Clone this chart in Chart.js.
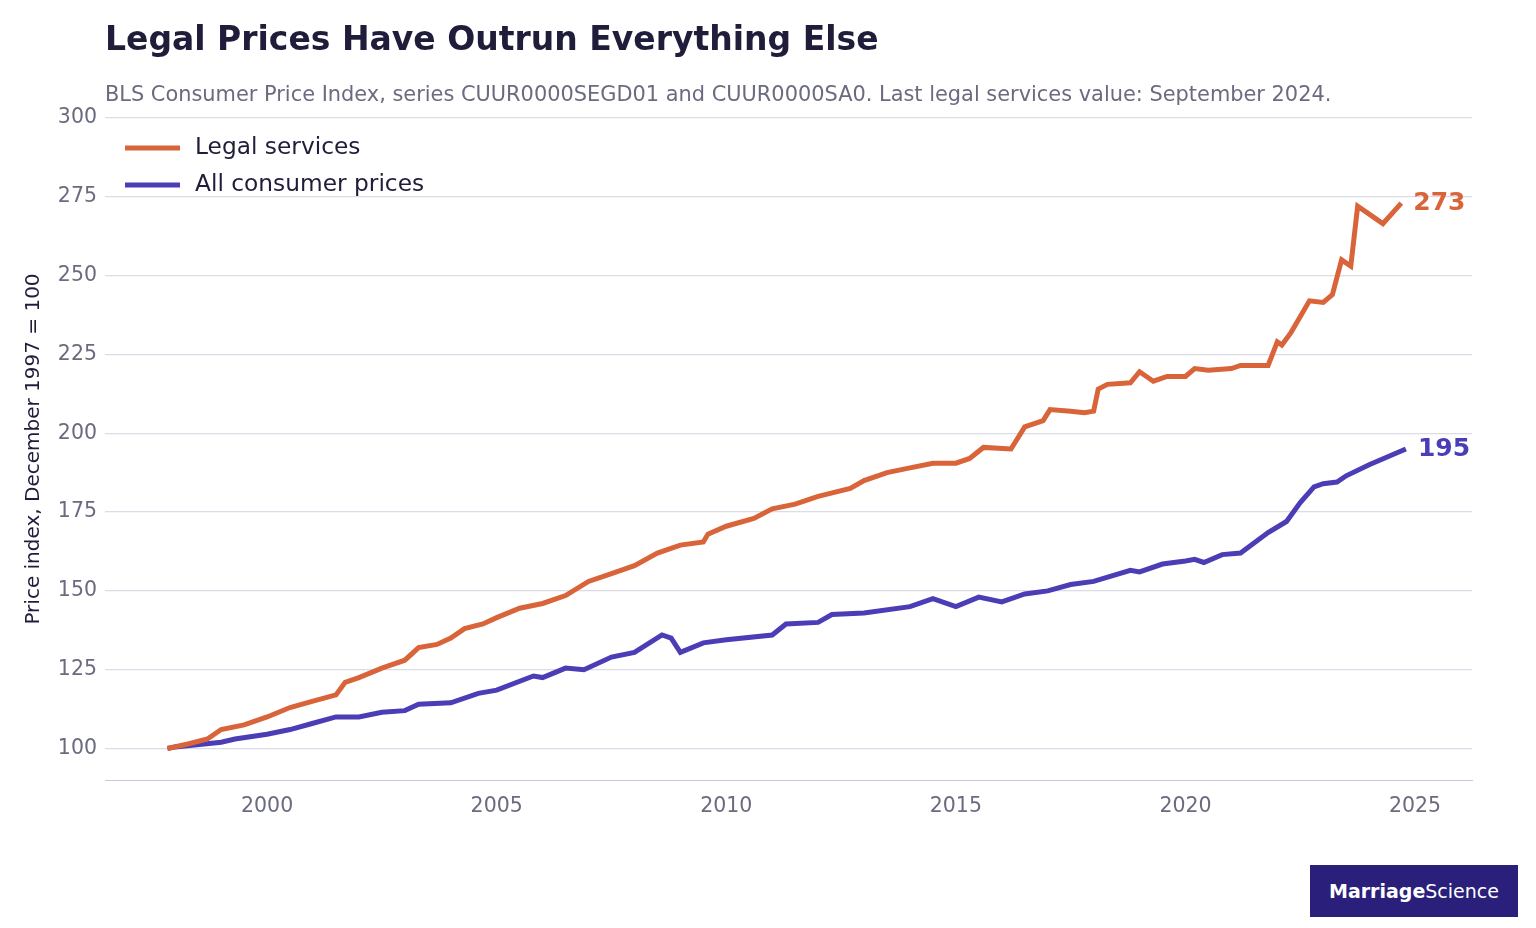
<!DOCTYPE html>
<html>
<head>
<meta charset="utf-8">
<script src="https://cdn.jsdelivr.net/npm/chart.js@4"></script>
<style>
  body { margin: 0; width: 1536px; height: 928px; background: #fff; font-family: "DejaVu Sans", sans-serif; overflow: hidden; }
  #wrap { position: absolute; left: 0; top: 0; width: 1536px; height: 928px; }
  h1 { position: absolute; left: 105px; top: 19px; margin: 0; font-size: 33px; font-weight: bold; color: #1f1d3a; }
  .sub { position: absolute; left: 105px; top: 82px; font-size: 20.9px; color: #6b6b80; white-space: nowrap; }
  .logo { position: absolute; left: 1310px; top: 865px; width: 208px; height: 52px; background: #2a1f7a; color: #fff; font-size: 19px; line-height: 52px; text-align: center; }
</style>
</head>
<body>
<div id="wrap"><canvas id="c" width="1536" height="928"></canvas></div>
<h1>Legal Prices Have Outrun Everything Else</h1>
<div class="sub">BLS Consumer Price Index, series CUUR0000SEGD01 and CUUR0000SA0. Last legal services value: September 2024.</div>
<div class="logo"><b>Marriage</b>Science</div>
<script>
// x positions are decimal years
const legalYears = [1997.83, 1998.3, 1998.7, 1999, 1999.5, 2000, 2000.5, 2001, 2001.5, 2001.7, 2002, 2002.5, 2003, 2003.3, 2003.7, 2004, 2004.3, 2004.7, 2005, 2005.5, 2006, 2006.5, 2007, 2007.5, 2008, 2008.5, 2009, 2009.5, 2009.6, 2010, 2010.6, 2011, 2011.5, 2012, 2012.7, 2013, 2013.5, 2014, 2014.5, 2015, 2015.3, 2015.6, 2016.2, 2016.5, 2016.9, 2017.05, 2017.5, 2017.8, 2018.0, 2018.1, 2018.3, 2018.8, 2019.0, 2019.3, 2019.6, 2020, 2020.2, 2020.5, 2021, 2021.2, 2021.8, 2022.0, 2022.1, 2022.3, 2022.7, 2023, 2023.2, 2023.4, 2023.6, 2023.75, 2024.3, 2024.7];
const legalValues = [100, 101.5, 103, 106, 107.5, 110, 113, 115, 117, 121, 122.5, 125.5, 128, 132, 133, 135, 138, 139.5, 141.5, 144.5, 146, 148.5, 153, 155.5, 158, 162, 164.5, 165.5, 168, 170.5, 173, 176, 177.5, 180, 182.5, 185, 187.5, 189, 190.5, 190.5, 192, 195.5, 195, 202, 204, 207.5, 207, 206.5, 207, 214, 215.5, 216, 219.5, 216.5, 218, 218, 220.5, 220, 220.5, 221.5, 221.5, 229, 228, 232, 242, 241.5, 244, 255, 253, 272, 266.5, 273];
const cpiYears = [1997.83, 1998, 1999, 1999.3, 2000, 2000.5, 2001, 2001.5, 2002, 2002.5, 2003, 2003.3, 2004, 2004.6, 2005, 2005.8, 2006, 2006.5, 2006.9, 2007.5, 2008, 2008.6, 2008.8, 2009, 2009.5, 2010, 2011, 2011.3, 2012, 2012.3, 2013, 2014, 2014.5, 2015, 2015.5, 2016, 2016.5, 2017, 2017.5, 2018, 2018.8, 2019, 2019.5, 2020, 2020.2, 2020.4, 2020.8, 2021.2, 2021.8, 2022.2, 2022.5, 2022.8, 2023, 2023.3, 2023.5, 2024, 2024.8];
const cpiValues = [100, 100.5, 102, 103, 104.5, 106, 108, 110, 110, 111.5, 112, 114, 114.5, 117.5, 118.5, 123, 122.5, 125.5, 125, 129, 130.5, 136, 135, 130.5, 133.5, 134.5, 136, 139.5, 140, 142.5, 143, 145, 147.5, 145, 148, 146.5, 149, 150, 152, 153, 156.5, 156, 158.5, 159.5, 160, 159, 161.5, 162, 168.5, 172, 178, 183, 184, 184.5, 186.5, 190, 195];
const yTicks = [100, 125, 150, 175, 200, 225, 250, 275, 300];
const xTicks = [2000, 2005, 2010, 2015, 2020, 2025];

const legalColor = '#d9643a';
const cpiColor = '#4b3db5';
const pts = (xs, ys) => xs.map((x, i) => ({ x, y: ys[i] }));

const extras = {
  id: 'extras',
  afterDatasetsDraw(chart) {
    const ctx = chart.ctx;
    ctx.save();
    // end labels
    chart.data.datasets.forEach((ds, i) => {
      const meta = chart.getDatasetMeta(i);
      const last = meta.data[meta.data.length - 1];
      ctx.fillStyle = ds.borderColor;
      ctx.font = 'bold 25px "DejaVu Sans"';
      ctx.textBaseline = 'middle';
      ctx.textAlign = 'left';
      ctx.fillText(String(Math.round(ds.data[ds.data.length - 1].y)), last.x + 12, last.y);
    });
    // legend
    const names = ['Legal services', 'All consumer prices'];
    const cols = [legalColor, cpiColor];
    ctx.font = '23.3px "DejaVu Sans"';
    names.forEach((n, i) => {
      const y = 148 + i * 37;
      ctx.strokeStyle = cols[i];
      ctx.lineWidth = 5;
      ctx.beginPath(); ctx.moveTo(125, y); ctx.lineTo(180, y); ctx.stroke();
      ctx.fillStyle = '#1f1d3a';
      ctx.fillText(n, 195, y);
    });
    ctx.restore();
  }
};

new Chart(document.getElementById('c'), {
  type: 'line',
  data: {
    datasets: [
      { data: pts(legalYears, legalValues), borderColor: legalColor, borderWidth: 5, pointRadius: 0, tension: 0 },
      { data: pts(cpiYears, cpiValues), borderColor: cpiColor, borderWidth: 5, pointRadius: 0, tension: 0 }
    ]
  },
  plugins: [extras],
  options: {
    responsive: false,
    animation: false,
    layout: { padding: { top: 118, right: 64, bottom: 108, left: 0 } },
    plugins: { legend: { display: false }, tooltip: { enabled: false } },
    scales: {
      x: {
        type: 'linear', min: 1996.47, max: 2026.24,
        afterBuildTicks: s => { s.ticks = xTicks.map(v => ({ value: v })); },
        afterFit: s => { s.height = 40; },
        grid: { display: false },
        border: { color: '#c8c8d8' },
        ticks: { color: '#6b6b80', font: { size: 20.5, family: 'DejaVu Sans' }, padding: 6, callback: v => String(v) }
      },
      y: {
        min: 90, max: 300,
        afterBuildTicks: s => { s.ticks = yTicks.map(v => ({ value: v })); },
        afterFit: s => { s.width = 105; },
        grid: { color: '#dcdce8', lineWidth: 1.2, drawTicks: false },
        border: { display: false },
        ticks: { color: '#6b6b80', font: { size: 20.5, family: 'DejaVu Sans' }, padding: 8 },
        title: { display: true, text: 'Price index, December 1997 = 100', color: '#1f1d3a', font: { size: 20, family: 'DejaVu Sans' }, padding: { top: 22, bottom: 0 } }
      }
    }
  }
});
</script>
</body>
</html>
